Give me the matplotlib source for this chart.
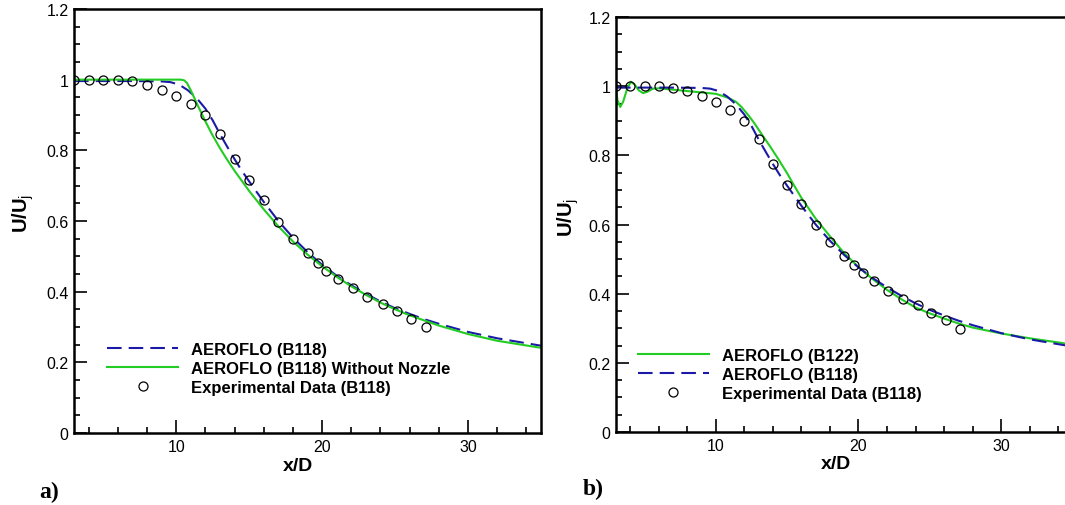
import matplotlib
matplotlib.use('Agg')
import matplotlib.pyplot as plt
from matplotlib.ticker import MultipleLocator, FormatStrFormatter

plt.rcParams['font.family'] = ['Liberation Sans', 'DejaVu Sans']
plt.rcParams['mathtext.fontset'] = 'custom'
plt.rcParams['mathtext.rm'] = 'Liberation Sans'
plt.rcParams['mathtext.bf'] = 'Liberation Sans:bold'

# experimental data (B118), same in both panels
exp_x = [3, 4, 5, 6, 7, 8, 9, 10, 11, 12, 13, 14, 15, 16, 17, 18, 19, 19.7,
         20.3, 21.1, 22.1, 23.1, 24.2, 25.1, 26.1, 27.1]
exp_y = [1.0, 1.0, 1.0, 1.0, 0.996, 0.985, 0.971, 0.955, 0.932, 0.900, 0.846,
         0.776, 0.715, 0.658, 0.598, 0.549, 0.509, 0.482, 0.459, 0.437, 0.409,
         0.386, 0.366, 0.344, 0.323, 0.299]

# AEROFLO (B118)
b118_x = [3, 5, 7, 9, 9.6, 10.2, 10.8, 11.4, 12, 12.5, 13, 13.5, 14, 14.5, 15,
          16, 17, 18, 19, 20, 21, 22, 23, 24, 25, 26, 27, 28, 30, 32, 35]
b118_y = [0.996, 0.996, 0.996, 0.995, 0.993, 0.986, 0.970, 0.948, 0.918, 0.885,
          0.846, 0.810, 0.775, 0.742, 0.712, 0.654, 0.600, 0.553, 0.512, 0.476,
          0.445, 0.418, 0.394, 0.372, 0.353, 0.337, 0.322, 0.309, 0.286, 0.268,
          0.247]

# AEROFLO (B118) without nozzle
nonoz_x = [3, 6, 9, 10.3, 10.55, 10.75, 11.0, 11.5, 12, 12.5, 13, 13.5, 14, 15,
           16, 17, 18, 19, 20, 21, 22, 23, 24, 25, 26, 28, 30, 32, 35]
nonoz_y = [1.0, 1.0, 1.0, 1.0, 0.998, 0.990, 0.970, 0.925, 0.882, 0.842, 0.806,
           0.773, 0.742, 0.685, 0.633, 0.585, 0.542, 0.505, 0.472, 0.442, 0.415,
           0.391, 0.369, 0.350, 0.333, 0.304, 0.280, 0.261, 0.241]

# AEROFLO (B122)
b122_x = [3.0, 3.1, 3.3, 3.5, 3.8, 4.05, 4.3, 4.6, 4.9, 5.2, 5.6, 6.0, 7.0, 8.0,
          9.0, 10.0, 10.9, 11.4, 11.8, 12.3, 12.7, 13.2, 13.8, 14.4, 15, 15.5,
          16, 17, 18, 19, 20, 21, 22, 23, 24, 25, 26, 27, 28, 30, 32, 35]
b122_y = [1.0, 0.96, 0.94, 0.955, 0.995, 1.013, 1.005, 0.988, 0.980, 0.984,
          0.993, 0.994, 0.990, 0.986, 0.982, 0.978, 0.966, 0.955, 0.940, 0.915,
          0.893, 0.862, 0.826, 0.788, 0.748, 0.712, 0.677, 0.617, 0.566, 0.517,
          0.477, 0.442, 0.411, 0.384, 0.360, 0.343, 0.328, 0.314, 0.302, 0.285,
          0.271, 0.253]

green = '#22cc22'
blue = '#1a1aa6'
dash = (7, 3.4)


def style_axes(ax):
    ax.set_xlim(3, 35)
    ax.set_ylim(0, 1.2)
    ax.xaxis.set_major_locator(MultipleLocator(10))
    ax.xaxis.set_minor_locator(MultipleLocator(2))
    ax.yaxis.set_major_locator(MultipleLocator(0.2))
    ax.yaxis.set_minor_locator(MultipleLocator(0.05))
    ax.yaxis.set_major_formatter(FormatStrFormatter('%g'))
    ax.tick_params(which='both', direction='in', top=False, right=False,
                   width=1.2, labelsize=11.5)
    ax.tick_params(which='major', length=9.5, pad=4)
    ax.tick_params(which='minor', length=4.5)
    for s in ax.spines.values():
        s.set_linewidth(1.8)
    ax.set_xlabel('x/D', fontsize=14, fontweight='bold')
    ax.set_ylabel(r'$\mathbf{U/U}_\mathrm{j}$', fontsize=14.5)


legend_kw = dict(loc='upper left', frameon=False, borderpad=0, borderaxespad=0,
                 handlelength=4.26, handletextpad=0.78, labelspacing=0.25,
                 prop={'weight': 'bold', 'size': 12})

fig = plt.figure(figsize=(10.65, 5.06), dpi=100)

# panel a
ax1 = fig.add_axes([0.0695, 0.1423, 0.4385, 0.838])
ax1.plot(b118_x, b118_y, color=blue, lw=1.5, dashes=dash, label='AEROFLO (B118)')
ax1.plot(nonoz_x, nonoz_y, color=green, lw=1.5, label='AEROFLO (B118) Without Nozzle')
ax1.plot(exp_x, exp_y, 'o', mfc='none', mec='black', ms=6.5, mew=0.9,
         label='Experimental Data (B118)')
style_axes(ax1)
ax1.xaxis.set_label_coords(0.48, -0.056)
ax1.yaxis.set_label_coords(-0.081, 0.52)
ax1.legend(bbox_to_anchor=(0.0707, 0.2146), **legend_kw)

# panel b (runs off the right edge like the original)
ax2 = fig.add_axes([0.5784, 0.1443, 0.4286, 0.820])
ax2.plot(b122_x, b122_y, color=green, lw=1.5, label='AEROFLO (B122)')
ax2.plot(b118_x, b118_y, color=blue, lw=1.5, dashes=dash, label='AEROFLO (B118)')
ax2.plot(exp_x, exp_y, 'o', mfc='none', mec='black', ms=6.5, mew=0.9,
         label='Experimental Data (B118)')
style_axes(ax2)
ax2.xaxis.set_label_coords(0.482, -0.056)
ax2.yaxis.set_label_coords(-0.076, 0.52)
ax2.legend(bbox_to_anchor=(0.048, 0.2027), **legend_kw)

fig.text(0.037, 0.016, 'a)', family=['Liberation Serif'], fontweight='bold', fontsize=17)
fig.text(0.547, 0.022, 'b)', family=['Liberation Serif'], fontweight='bold', fontsize=17)

fig.savefig('out.png', dpi=100)
